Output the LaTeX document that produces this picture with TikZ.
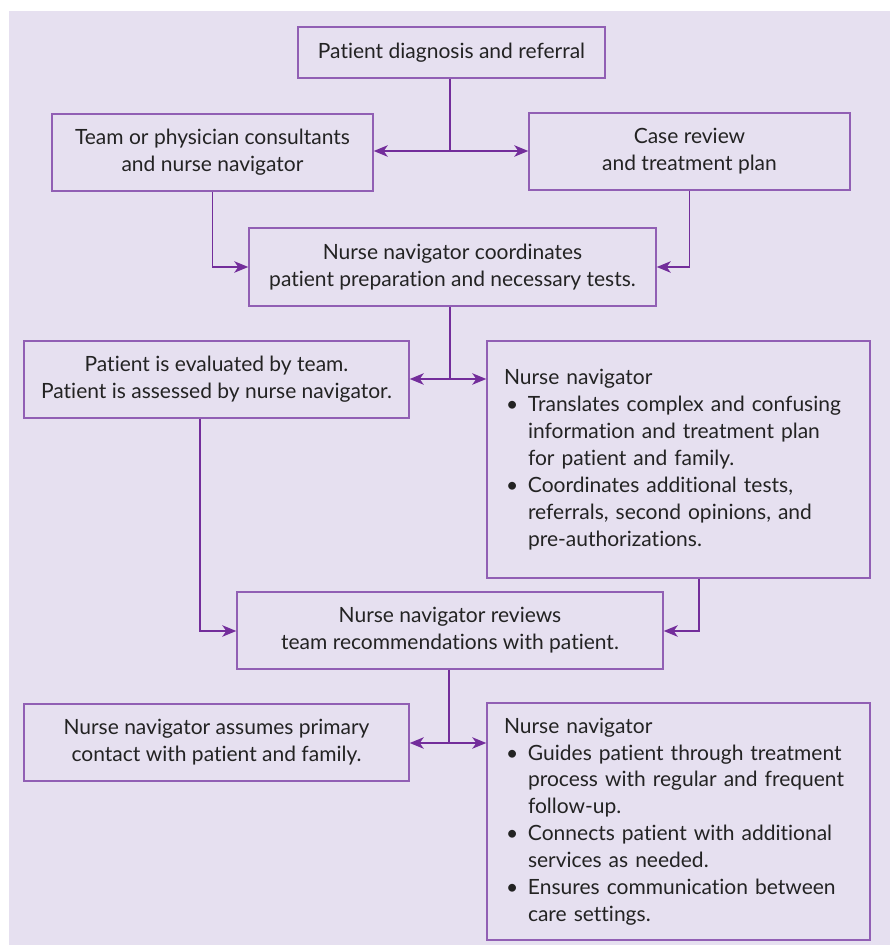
\documentclass[tikz,border=0pt]{standalone}
\usepackage{fontspec}
\setmainfont[Ligatures={NoCommon}]{Lato}
\usetikzlibrary{arrows.meta}
\definecolor{bg}{RGB}{230,224,240}
\definecolor{bord}{RGB}{145,95,180}
\definecolor{conn}{RGB}{115,45,155}
\definecolor{txt}{RGB}{35,35,35}
\newcommand{\bitem}{\makebox[24pt][l]{\hspace*{2pt}\textbullet}}
\newcommand{\bcont}{\hspace*{24pt}}
\begin{document}
\begin{tikzpicture}[x=1pt,y=-1pt,
  >={Stealth[length=14pt,width=11.5pt,inset=4pt]},
  box/.style={draw=bord,line width=1.5pt,inner sep=0pt,align=center,text=txt,
    font=\fontsize{21}{26.9}\selectfont},
  listbox/.style={box,align=left,text width=#1,inner xsep=17pt},
  link/.style={draw=conn,line width=1.4pt}]
\useasboundingbox (0,0) rectangle (893,945);
\fill[bg] (9,11) rectangle (890,945);

\node[box,minimum width=307pt,minimum height=51pt] (b1) at (451.5,52.5) {Patient diagnosis and referral};
\node[box,minimum width=321pt,minimum height=77pt] (b2) at (212.5,152.5) {Team or physician consultants\\and nurse navigator};
\node[box,minimum width=321pt,minimum height=77pt] (b3) at (689.5,151.5) {Case review\\and treatment plan};
\node[box,minimum width=407pt,minimum height=78pt] (b4) at (452.5,267) {Nurse navigator coordinates\\patient preparation and necessary tests.};
\node[box,minimum width=385pt,minimum height=77pt] (b5) at (216.5,379.5) {Patient is evaluated by team.\\Patient is assessed by nurse navigator.};
\node[listbox=349pt,minimum height=237pt] (b6) at (678.5,459.5) {Nurse navigator\\
\bitem Translates complex and confusing\\
\bcont information and treatment plan\\
\bcont for patient and family.\\
\bitem Coordinates additional tests,\\
\bcont referrals, second opinions, and\\
\bcont pre-authorizations.};
\node[box,minimum width=426pt,minimum height=77pt] (b7) at (450,630.5) {Nurse navigator reviews\\team recommendations with patient.};
\node[box,minimum width=385pt,minimum height=77pt] (b8) at (216.5,742.5) {Nurse navigator assumes primary\\contact with patient and family.};
\node[listbox=349pt,minimum height=237pt] (b9) at (678.5,821.5) {Nurse navigator\\
\bitem Guides patient through treatment\\
\bcont process with regular and frequent\\
\bcont follow-up.\\
\bitem Connects patient with additional\\
\bcont services as needed.\\
\bitem Ensures communication between\\
\bcont care settings.};

\coordinate (j1) at (450,151);
\draw[link] (b1.south -| j1) -- (j1);
\draw[link,<->] (b2.east |- j1) -- (b3.west |- j1);
\draw[link,->] (b2.south) |- (b4.west);
\draw[link,->] (b3.south) |- (b4.east);
\coordinate (j2) at (450,379);
\draw[link] (b4.south -| j2) -- (j2);
\draw[link,<->] (b5.east |- j2) -- (b6.west |- j2);
\coordinate (j3) at (200,631);
\coordinate (j4) at (699,631);
\draw[link,->] (b5.south -| j3) -- (j3) -- (b7.west |- j3);
\draw[link,->] (b6.south -| j4) -- (j4) -- (b7.east |- j4);
\coordinate (j5) at (449,743);
\draw[link] (b7.south -| j5) -- (j5);
\draw[link,<->] (b8.east |- j5) -- (b9.west |- j5);
\end{tikzpicture}
\end{document}
